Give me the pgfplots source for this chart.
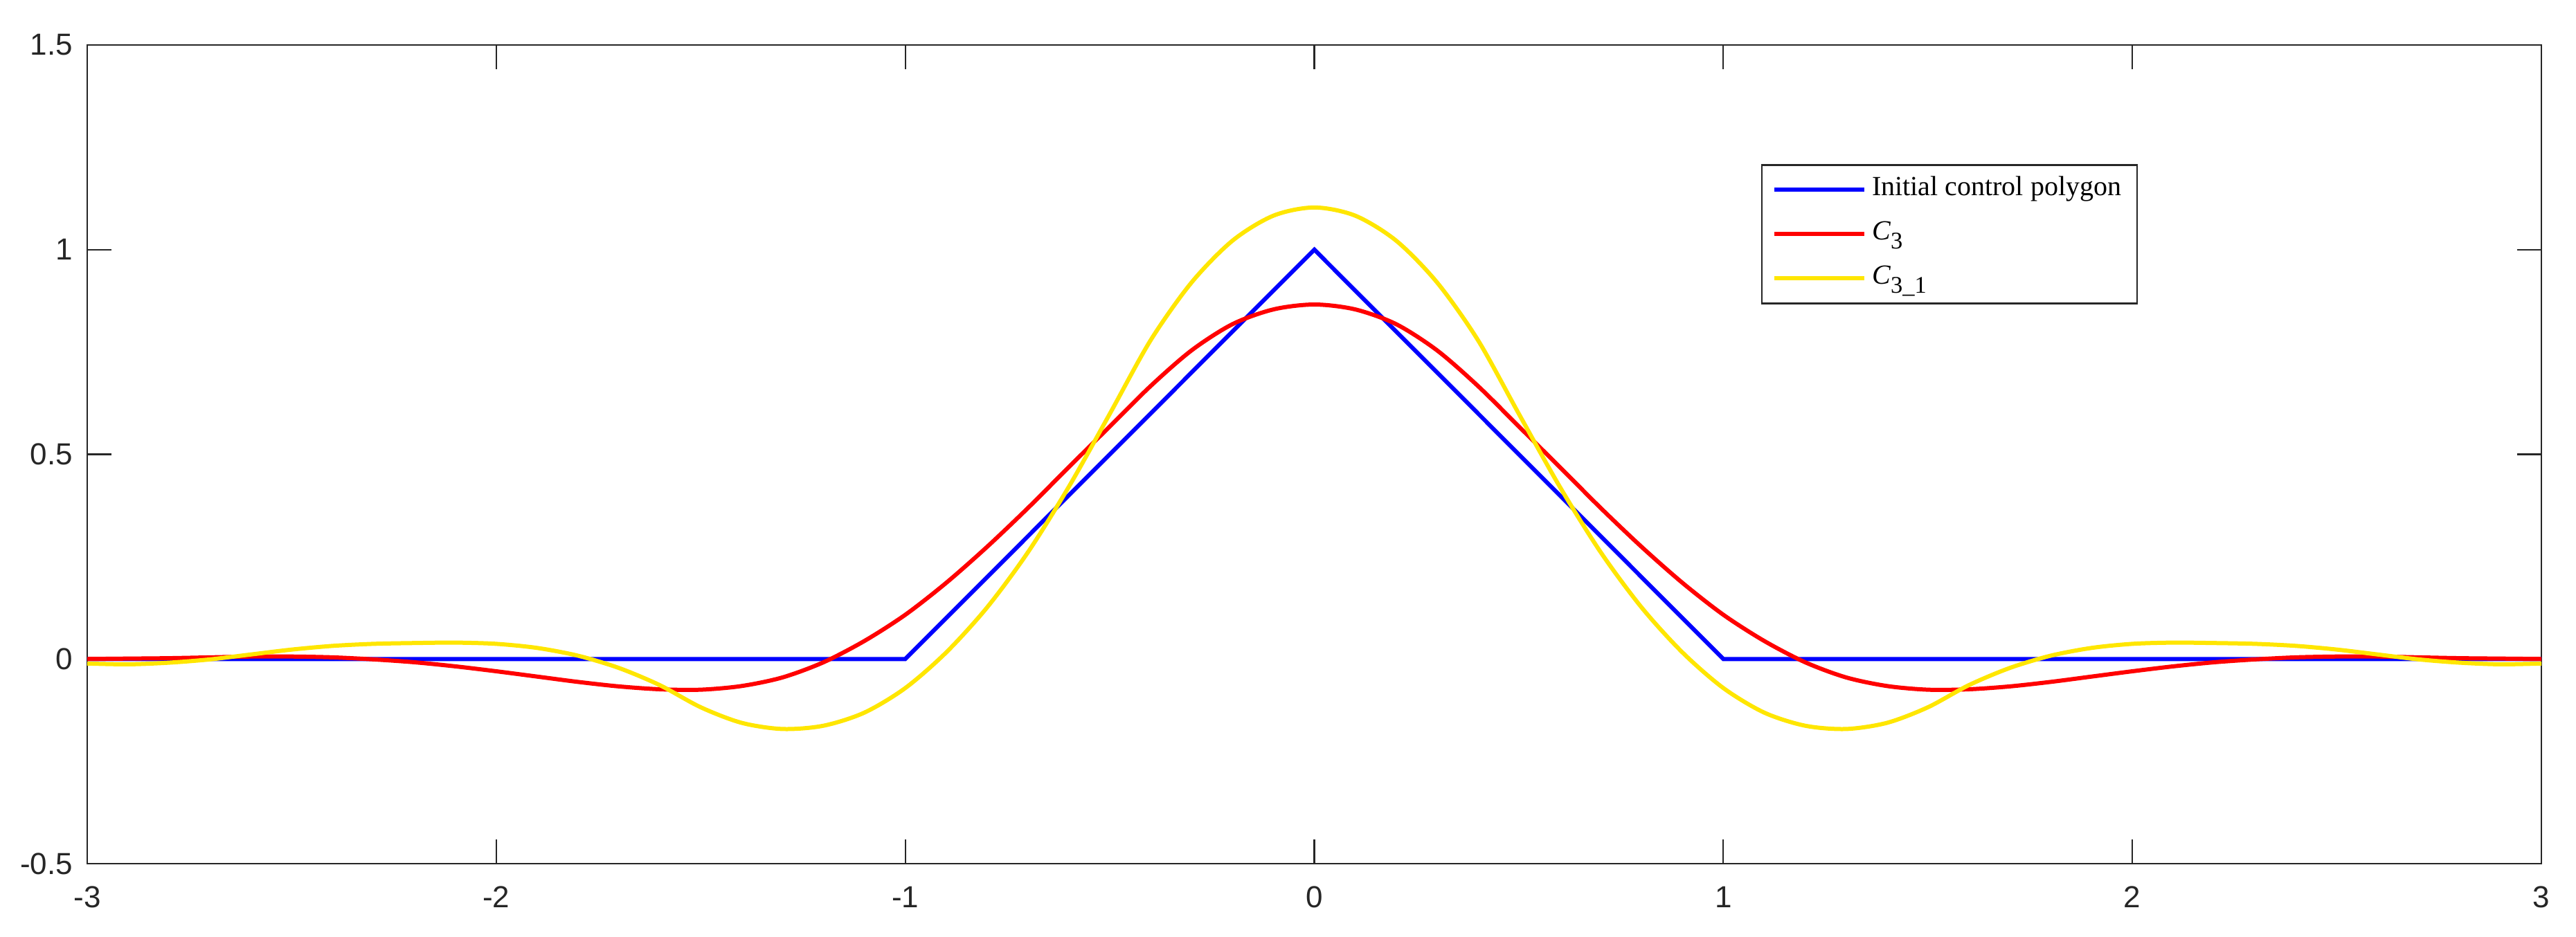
\documentclass[border=0pt]{standalone}
\usepackage{fontspec}
\setmainfont{Liberation Serif}
\newfontfamily\arial{Liberation Sans}
\usepackage{pgfplots}
\pgfplotsset{compat=1.18}
\usepackage{pgfplotstable}

\definecolor{axgray}{rgb}{0.15,0.15,0.15}
\definecolor{myyellow}{RGB}{255,230,0}
\newcommand{\sub}[1]{\raisebox{-2.7pt}{\fontsize{6.9}{7}\selectfont #1}}

% initial control polygon
\pgfplotstableread{
x y
-3 0
-1 0
0 1
1 0
3 0
}\polygon

% C_3
\pgfplotstableread{
x y
-3.0 0.000
-2.9 0.001
-2.8 0.002
-2.7 0.004
-2.6 0.006
-2.5 0.006
-2.4 0.004
-2.3 -0.001
-2.2 -0.008
-2.1 -0.018
-2.0 -0.030
-1.9 -0.043
-1.8 -0.056
-1.7 -0.067
-1.6 -0.074
-1.5 -0.075
-1.4 -0.066
-1.3 -0.045
-1.2 -0.008
-1.1 0.044
-1.0 0.108
-0.9 0.186
-0.8 0.274
-0.7 0.369
-0.6 0.469
-0.5 0.568
-0.4 0.667
-0.3 0.754
-0.2 0.818
-0.1 0.854
0.0 0.866
0.1 0.854
0.2 0.818
0.3 0.754
0.4 0.667
0.5 0.568
0.6 0.469
0.7 0.369
0.8 0.274
0.9 0.186
1.0 0.108
1.1 0.044
1.2 -0.008
1.3 -0.045
1.4 -0.066
1.5 -0.075
1.6 -0.074
1.7 -0.067
1.8 -0.056
1.9 -0.043
2.0 -0.030
2.1 -0.018
2.2 -0.008
2.3 -0.001
2.4 0.004
2.5 0.006
2.6 0.006
2.7 0.004
2.8 0.002
2.9 0.001
3.0 0.000
}\cthree

% C_3_1
\pgfplotstableread{
x y
-3.0 -0.011
-2.9 -0.013
-2.8 -0.009
-2.7 -0.001
-2.6 0.011
-2.5 0.023
-2.4 0.032
-2.3 0.037
-2.2 0.039
-2.1 0.040
-2.0 0.037
-1.9 0.027
-1.8 0.008
-1.7 -0.022
-1.6 -0.064
-1.5 -0.118
-1.4 -0.156
-1.3 -0.171
-1.2 -0.163
-1.1 -0.131
-1.0 -0.071
-0.9 0.016
-0.8 0.126
-0.7 0.261
-0.6 0.421
-0.5 0.599
-0.4 0.779
-0.3 0.920
-0.2 1.022
-0.1 1.083
0.0 1.103
0.1 1.083
0.2 1.022
0.3 0.920
0.4 0.779
0.5 0.599
0.6 0.421
0.7 0.261
0.8 0.126
0.9 0.016
1.0 -0.071
1.1 -0.131
1.2 -0.163
1.3 -0.171
1.4 -0.156
1.5 -0.118
1.6 -0.064
1.7 -0.022
1.8 0.008
1.9 0.027
2.0 0.037
2.1 0.040
2.2 0.039
2.3 0.037
2.4 0.032
2.5 0.023
2.6 0.011
2.7 -0.001
2.8 -0.009
2.9 -0.013
3.0 -0.011
}\cthreeone

\begin{document}
\begin{tikzpicture}
\begin{axis}[
    scale only axis,
    width=709pt,
    height=236.6pt,
    xmin=-3, xmax=3,
    ymin=-0.5, ymax=1.5,
    xtick={-3,-2,-1,0,1,2,3},
    xticklabels={-3,-2,-1,0,1,2,3},
    ytick={-0.5,0,0.5,1,1.5},
    yticklabels={-0.5,0,0.5,1,1.5},
    tick align=inside,
    major tick length=7pt,
    axis line style={axgray, line width=0.45pt},
    tick style={axgray, line width=0.45pt},
    ticklabel style={font=\arial\fontsize{8.8}{10}\selectfont, text=axgray, inner sep=0pt},
    xticklabel style={anchor=north, yshift=-6.4pt},
    yticklabel style={anchor=east, xshift=-4pt},
    legend cell align=left,
    legend image code/.code={\draw[#1] (0pt,0pt) -- (26pt,0pt);},
    legend style={
        at={(axis cs:1.0925,1.2087)}, anchor=north west,
        draw=axgray, line width=0.45pt,
        font=\fontsize{8}{9.6}\selectfont,
        inner xsep=3pt, inner ysep=0.8pt,
        row sep=0pt,
        nodes={inner sep=1.6pt, text height=6.4pt, text depth=3.2pt},
    },
]
\addplot[blue, line width=1.2pt] table {\polygon};
\addlegendentry{Initial control polygon}
\addplot[red, line width=1.2pt, smooth] table {\cthree};
\addlegendentry{\textit{C}\sub{3}}
\addplot[myyellow, line width=1.2pt, smooth] table {\cthreeone};
\addlegendentry{\textit{C}\sub{3\_1}}
\end{axis}
\pgfresetboundingbox
\path ([shift={(-25.2pt,-21pt)}]current axis.south west) rectangle ([shift={(10pt,13pt)}]current axis.north east);
\end{tikzpicture}
\end{document}
